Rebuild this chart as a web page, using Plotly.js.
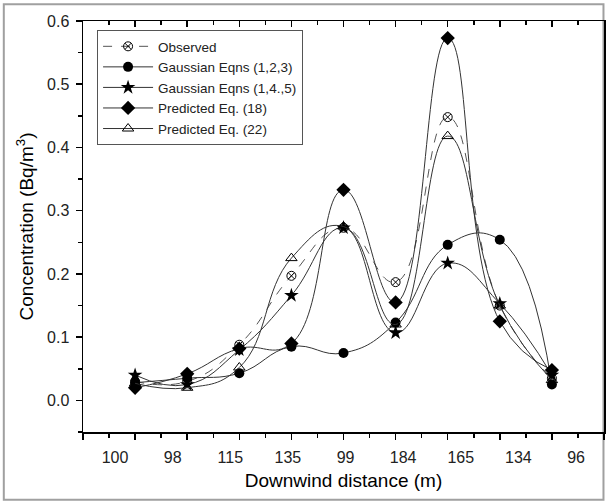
<!DOCTYPE html>
<html>
<head>
<meta charset="utf-8">
<script src="https://cdn.plot.ly/plotly-3.0.1.min.js"></script>
<style>html,body{margin:0;padding:0;background:#fff;}#chart{width:606px;height:501px;}</style>
</head>
<body>
<div id="chart"></div>
<script>
// Data
const positions = [1, 2, 3, 4, 5, 6, 7, 8, 9];
const distanceLabels = ["100", "98", "115", "135", "99", "184", "165", "134", "96"];
const observed   = [0.030, 0.030, 0.088, 0.197, 0.273, 0.187, 0.448, 0.150, 0.035];
const gauss123   = [0.028, 0.035, 0.043, 0.085, 0.075, 0.123, 0.246, 0.254, 0.025];
const gauss145   = [0.040, 0.025, 0.080, 0.166, 0.273, 0.107, 0.217, 0.153, 0.040];
const pred18     = [0.020, 0.042, 0.082, 0.090, 0.333, 0.155, 0.573, 0.125, 0.048];
const pred22     = [0.027, 0.020, 0.052, 0.225, 0.275, 0.120, 0.418, 0.150, 0.032];

// label positions (Origin drew them with a slightly larger spacing than ticks)
const labelPos = distanceLabels.map((_, i) => 0.615 + 1.106 * i);

const lineCol = '#333';
function tr(name, y, symbol, opts) {
  opts = opts || {};
  return {
    type: 'scatter', mode: 'lines+markers', name: name,
    x: positions, y: y,
    line: {shape: 'spline', smoothing: 1.3, color: opts.lc || lineCol, width: 1, dash: opts.dash || 'solid'},
    marker: {symbol: symbol, size: opts.size || 9, color: '#000', line: {color: '#000', width: opts.mlw || 0}},
    cliponaxis: false
  };
}

const data = [
  tr('Observed', observed, 'circle-x-open', {dash: 'dash', lc: '#555', size: 9, mlw: 1}),
  tr('Gaussian Eqns (1,2,3)', gauss123, 'circle', {size: 10}),
  tr('Gaussian Eqns (1,4.,5)', gauss145, 'star', {size: 11}),
  tr('Predicted Eq. (18)', pred18, 'diamond', {size: 11}),
  tr('Predicted Eq. (22)', pred22, 'triangle-up-open', {size: 10, mlw: 1})
];

const majorX = [0,1,2,3,4,5,6,7,8,9,10];
const layout = {
  width: 606, height: 501,
  margin: {l: 83, r: 2, t: 21, b: 69},
  paper_bgcolor: '#fff', plot_bgcolor: '#fff',
  font: {family: 'Arial, Liberation Sans, sans-serif', color: '#222', size: 14},
  showlegend: true,
  legend: {
    x: 0.027, y: 0.978, xanchor: 'left', yanchor: 'top',
    bgcolor: '#fff', bordercolor: '#555', borderwidth: 1,
    font: {size: 13.5, color: '#222'},
    tracegroupgap: 0, itemwidth: 50
  },
  xaxis: {
    range: [0, 10], tickmode: 'array', tickvals: majorX, showticklabels: false,
    ticks: 'outside', ticklen: 6, tickwidth: 1.5, tickcolor: '#000',
    minor: {tickmode: 'linear', tick0: 0, dtick: 0.5, ticks: 'outside', ticklen: 4, tickwidth: 1.5, tickcolor: '#000'},
    showline: true, linecolor: '#000', linewidth: 1.5, showgrid: false, zeroline: false,
    fixedrange: true
  },
  xaxis2: {
    overlaying: 'x', side: 'bottom', anchor: 'y', range: [0, 10],
    tickmode: 'array', tickvals: labelPos, ticktext: distanceLabels,
    ticks: '', ticklen: 0, showline: false, showgrid: false, zeroline: false,
    ticklabelstandoff: 14,
    tickfont: {size: 16, color: '#222'},
    title: {text: 'Downwind distance (m)', font: {size: 19, color: '#000'}, standoff: 8}
  },
  xaxis3: {
    overlaying: 'x', side: 'top', anchor: 'y', range: [0, 10],
    tickmode: 'array', tickvals: majorX, showticklabels: false,
    ticks: 'inside', ticklen: 6, tickwidth: 1.5, tickcolor: '#000',
    minor: {tickmode: 'linear', tick0: 0, dtick: 0.5, ticks: 'inside', ticklen: 4, tickwidth: 1.5, tickcolor: '#000'},
    showline: true, linecolor: '#000', linewidth: 1.5, showgrid: false, zeroline: false
  },
  yaxis: {
    range: [-0.05, 0.6], tickmode: 'linear', tick0: 0, dtick: 0.1, tickformat: '.1f',
    ticks: 'outside', ticklen: 6, tickwidth: 1.5, tickcolor: '#000',
    minor: {tickmode: 'linear', tick0: 0, dtick: 0.05, ticks: 'outside', ticklen: 4, tickwidth: 1.5, tickcolor: '#000'},
    showline: true, mirror: true, linecolor: '#000', linewidth: 1.5,
    showgrid: false, zeroline: false,
    ticklabelstandoff: 3,
    tickfont: {size: 16, color: '#222'},
    title: {text: 'Concentration (Bq/m<sup>3</sup>)', font: {size: 19, color: '#000'}, standoff: 8}
  },
  shapes: [{
    type: 'rect', xref: 'paper', yref: 'paper',
    x0: -0.152, x1: 0.999, y0: -0.165, y1: 1.041,
    line: {color: '#a0a0a0', width: 2}, fillcolor: 'rgba(0,0,0,0)', layer: 'below'
  }]
};

// dummy traces to activate xaxis2 / xaxis3 without drawing
data.push({type: 'scatter', x: [null], y: [null], xaxis: 'x2', showlegend: false, hoverinfo: 'skip'});
data.push({type: 'scatter', x: [null], y: [null], xaxis: 'x3', showlegend: false, hoverinfo: 'skip'});

Plotly.newPlot('chart', data, layout, {staticPlot: true, displayModeBar: false});
</script>
</body>
</html>
